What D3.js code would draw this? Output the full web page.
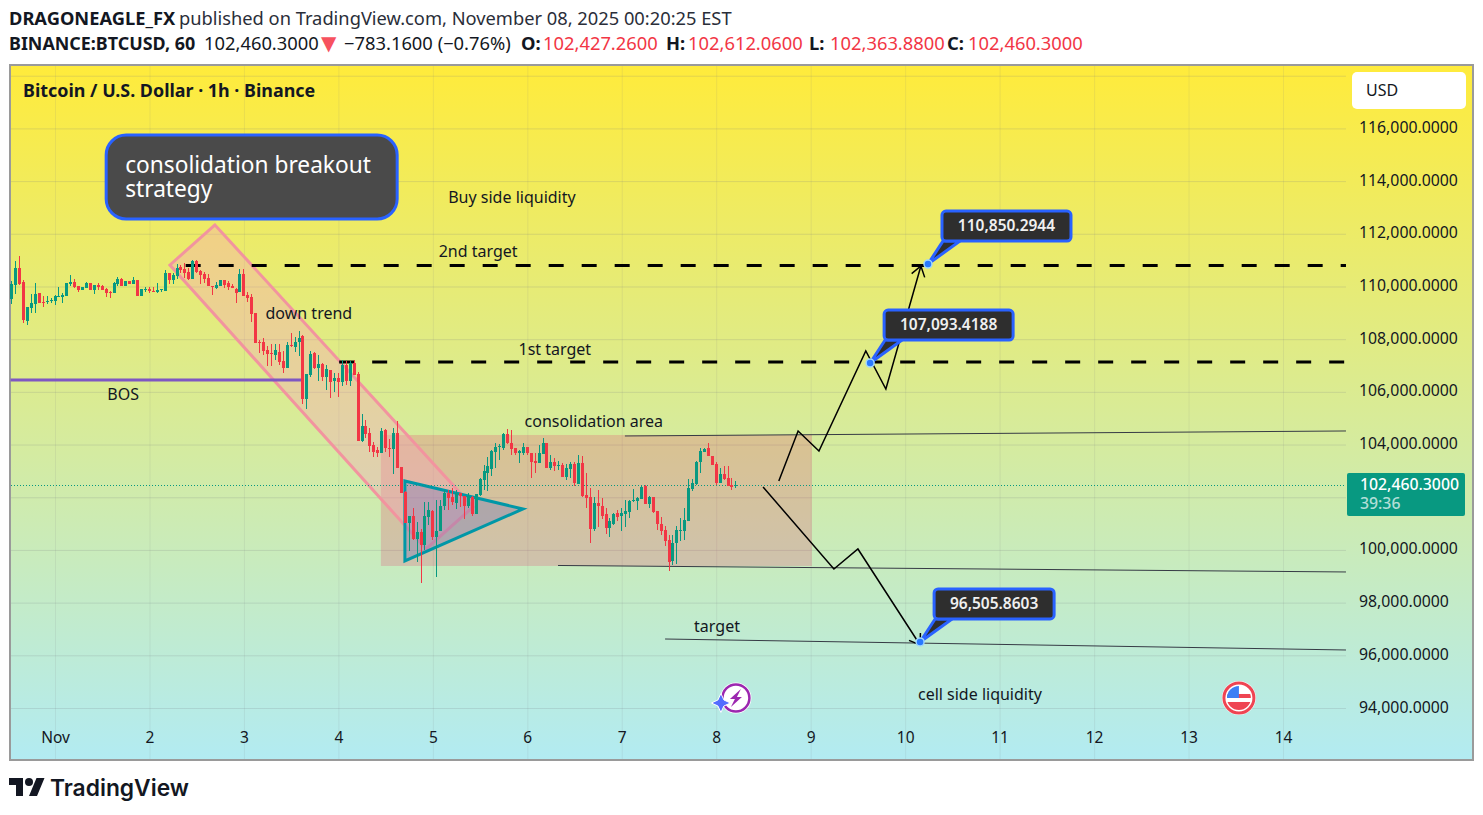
<!DOCTYPE html>
<html>
<head>
<meta charset="utf-8">
<title>BTCUSD consolidation breakout</title>
<style>
    body { margin: 0; background: #fff; }
    svg { display: block; }
    text { font-family: "Noto Sans", sans-serif; fill: #131722; }
</style>
</head>
<body>
<script src="https://d3js.org/d3.v7.min.js"></script>
<script>
// Candles, one per hour, first one 11 hours before Nov 1
const opens = [
    109530,110060,110700,110170,108690,109190,109340,109750,109410,109410,
    109450,109450,109600,109600,109640,110100,110170,110020,109870,109940,
    110130,109870,110060,110020,109910,109790,109750,110100,110290,110020,
    110210,110100,110250,109640,109870,109910,109830,109790,109870,109830,
    110510,110250,110400,110740,110660,110550,110290,110970,110590,110470,
    110320,110020,109940,110020,110250,110130,110020,109910,109790,110470,
    109680,109600,109000,107900,107900,107590,107480,107400,107520,107180,
    106910,107780,107710,107900,108120,105730,106640,107480,106910,107060,
    106570,106830,106420,106530,106380,107020,106420,107100,106680,104140,
    104710,104440,103990,103800,103680,104560,103870,103840,104440,103160,
    102210,101030,101300,100420,100690,100200,101260,101480,100500,100730,
    101680,102170,102020,101790,102170,102060,101680,102020,101370,102090,
    102660,102930,103080,103720,103910,103870,104410,104060,103870,103680,
    103680,103910,103680,103380,103310,103650,104060,103120,103340,103190,
    103230,102780,103080,103270,102510,103310,102090,102020,100800,101790,
    101680,101370,100840,100990,101410,101300,101370,101450,101870,101870,
    101940,102430,101750,102020,101480,100990,100760,100390,99590,100270,
    100730,100730,101110,102320,102510,103340,103720,103870,103570,103270,
    102550,102890,102740,102470,102427.26
];
const highs = [
    110210,110970,111160,110250,109220,109720,110130,109750,109640,109640,
    109570,109680,109980,109750,110130,110440,110290,110020,109980,110170,
    110130,110060,110130,110060,109940,109830,110170,110360,110320,110210,
    110210,110360,110250,109910,109980,109980,109980,110130,109910,110630,
    110510,110510,110860,110820,110890,110700,111010,111010,110630,110550,
    110470,110020,110170,110250,110250,110210,110100,109940,110660,110660,
    109790,109720,109000,107970,108050,107740,107820,107820,107820,107560,
    107900,108240,108090,108310,108160,106680,107560,107520,107400,107100,
    107020,106830,106720,106720,107210,107180,107180,107210,106760,105160,
    104930,104630,104100,103910,104630,104600,104220,104630,104900,103160,
    102240,101300,101600,101070,100800,101830,101830,101520,101900,101900,
    102280,102280,102360,102280,102170,102060,102170,102060,102130,102740,
    103230,103530,103800,104060,104030,104440,104600,104560,103870,103800,
    104060,103910,103680,103680,103990,104260,104060,103610,103500,103380,
    103310,103270,103340,103340,103610,103570,102930,102360,102020,102280,
    101980,101600,101220,101410,101520,101600,101900,101900,102320,102020,
    102430,102470,102060,102020,101480,101260,100920,100580,100580,100920,
    101220,101600,102700,102700,103380,103870,103870,104060,103570,103340,
    103120,103190,103190,102740,102612.06
];
const lows = [
    109340,109720,110060,108620,108540,109000,109000,109380,109220,109340,
    109380,109300,109600,109380,109640,110020,109940,109790,109870,109940,
    109870,109720,109870,109870,109600,109570,109750,110020,110020,110020,
    110100,110100,109640,109640,109790,109750,109790,109750,109790,109830,
    110100,110100,110290,110510,110320,110250,110290,110510,110100,110130,
    110020,109680,109910,110020,109940,109870,109940,109380,109790,109640,
    109410,108650,107860,107480,107400,106990,106990,107210,107020,106720,
    106910,107710,107520,107360,105540,105350,106570,106870,106420,106420,
    106080,105770,106000,105810,106230,106260,106230,106640,104140,104100,
    104260,103720,103530,103530,103680,103720,103530,102890,103120,102170,
    101030,99970,100390,99550,98750,100010,100950,100390,98980,100730,
    101520,101520,101710,101560,101640,101180,101600,101300,101370,102060,
    102280,102240,102810,103120,103420,103800,104030,103610,103610,103310,
    103610,103610,102740,102930,103310,103650,103120,103040,103000,103040,
    102780,102660,102740,102430,102510,102020,101600,100270,100730,100880,
    101180,100610,100500,100950,101110,100730,100880,101220,101830,101520,
    101940,101750,101600,101410,100760,100580,100160,99210,99440,99480,
    100350,100390,101110,102240,102470,102930,103720,103570,103230,102470,
    102550,102660,102430,102280,102363.88
];
const closes = [
    110100,110700,110100,108730,109220,109380,109720,109380,109380,109450,
    109490,109640,109640,109680,110130,110170,109980,109870,109980,110130,
    109870,110060,109980,109870,109750,109750,110130,110290,110020,110210,
    110100,110250,109640,109910,109910,109830,109790,109870,109910,110510,
    110250,110440,110700,110630,110510,110290,110970,110550,110440,110290,
    110020,109980,110060,110250,110060,109980,109940,109750,110470,109640,
    109570,108960,107860,107860,107560,107440,107440,107590,107140,106910,
    107780,107740,107900,108050,105730,106680,107440,106910,107060,106570,
    106870,106380,106530,106380,107020,106420,107100,106640,104140,104710,
    104410,103950,103720,103680,104520,103870,103840,104440,103120,102170,
    101030,101300,100420,100690,100200,101300,101520,100500,100730,101680,
    102170,101980,101830,102170,102060,101680,102060,101370,102130,102700,
    103000,103190,103760,103910,103950,104410,104060,103840,103680,103760,
    103910,103680,103340,103310,103680,104060,103120,103340,103190,103230,
    102780,103120,103270,102550,103310,102060,101980,100800,101790,101680,
    101300,100840,101110,101370,101260,101410,101480,101870,101900,101980,
    102400,101750,102020,101450,100990,100730,100350,99550,100270,100760,
    100760,101140,102360,102550,103340,103760,103840,103570,103230,102550,
    102890,102700,102430,102400,102460.30
];
const firstHour = -11;

const priceTicks = [118000,116000,114000,112000,110000,108000,106000,104000,102000,100000,98000,96000,94000];
const dayTicks = [0,24,48,72,96,120,144,168,192,216,240,264,288,312];
const dayLabels = ["Nov","2","3","4","5","6","7","8","9","10","11","12","13","14"];

// Drawings, as [hour since Nov 1, price]
const channel = [[40.65,112334],[29.2,110815],[94.3,100036],[106.2,101630]];
const triangle = [[88.9,102617],[118.9,101554],[88.9,99580]];
const consolidationBox = [[82.8,104363],[192.3,99391]];
const bosLine = [[-11.3,106450],[63.1,106450]];
const target2Line = [[33.2,110800],[328,110800]];
const target1Line = [[72.2,107130],[328,107130]];
const upperLine = [[144.8,104325],[328,104515]];
const lowerLine = [[127.8,99410],[328,99163]];
const targetLine = [[155,96619],[328,96202]];
const upPath = [[183.9,102617],[188.8,104515],[194.1,103755],[206,107551],[211.1,106109],[220,110777]];
const downPath = [[179.9,102389],[197.9,99276],[204,100036],[219.8,96392]];

const labels = ["Buy side liquidity","2nd target","down trend","1st target","consolidation area","target","cell side liquidity","BOS"];
const labelPoints = [[116.1,113335],[107.5,111285],[64.5,108935],[127,107565],[136.9,104835],[168.2,97055],[235,94475],[17.3,105855]];

const calloutPoints = [[221.8,110850.2944],[207.1,107093.4188],[219.8,96505.8603]];
const calloutTexts = ["110,850.2944","107,093.4188","96,505.8603"];
const calloutWidths = [129,129,120];

const width = 1483, height = 815;
const plot = { left: 11, right: 1346, top: 66, bottom: 759 };

const x = d3.scaleLinear().domain([0, 312]).range([55, 1283]);
const y = d3.scaleLinear().domain([116000, 94000]).range([128.4, 708]);
const line = d3.line().x(d => x(d[0])).y(d => y(d[1]));
const closedLine = d => line(d) + "Z";

const svg = d3.select("body").append("svg").attr("width", width).attr("height", height);

// Header
const head1 = svg.append("text").attr("x", 9).attr("y", 25).style("font-size", "18.3px");
head1.append("tspan").style("font-weight", 700).text("DRAGONEAGLE_FX");
head1.append("tspan").attr("x", 179).style("fill", "#2a2e39").text("published on TradingView.com, November 08, 2025 00:20:25 EST");

const head2 = svg.append("text").attr("x", 9).attr("y", 50).style("font-size", "18.35px");
head2.append("tspan").style("font-weight", 700).style("font-size", "17.9px").text("BINANCE:BTCUSD, 60");
head2.append("tspan").attr("x", 204).text("102,460.3000");
head2.append("tspan").attr("x", 321).style("fill", "#f7525f").style("font-family", "DejaVu Sans").style("font-size", "20px").text("▼");
head2.append("tspan").attr("x", 344).text("−783.1600 (−0.76%)");
[["O:","102,427.2600",521,543],["H:","102,612.0600",666,688],["L:","102,363.8800",809,830],["C:","102,460.3000",947,968]].forEach(p => {
    head2.append("tspan").attr("x", p[2]).style("font-weight", 700).text(p[0]);
    head2.append("tspan").attr("x", p[3]).style("fill", "#f23645").text(p[1]);
});

// Background
const grad = svg.append("defs").append("linearGradient")
    .attr("id", "bg").attr("x1", 0).attr("y1", 0).attr("x2", 0).attr("y2", 1);
grad.append("stop").attr("offset", "0%").attr("stop-color", "#ffeb3b");
grad.append("stop").attr("offset", "100%").attr("stop-color", "#b2ebf2");

svg.append("rect").attr("x", 10).attr("y", 65).attr("width", 1463).attr("height", 695)
    .attr("fill", "url(#bg)").attr("stroke", "#9a9a9a").attr("stroke-width", 2);

// Axes
const xAxis = d3.axisBottom(x).tickValues(dayTicks).tickFormat((d, i) => dayLabels[i]).tickSize(-(plot.bottom - plot.top)).tickPadding(0);
const gx = svg.append("g").attr("transform", "translate(0," + plot.bottom + ")").call(xAxis);
gx.select(".domain").remove();
gx.selectAll("line").attr("stroke", "#787b86").attr("stroke-opacity", 0.12);
gx.selectAll("text").attr("y", -21).attr("dy", "0.35em").style("font-size", "15.5px").style("fill", "#131722");

const yAxis = d3.axisRight(y).tickValues(priceTicks).tickFormat(d => d3.format(",.4f")(d)).tickSize(-(plot.right - plot.left)).tickPadding(0);
const gy = svg.append("g").attr("transform", "translate(" + plot.right + ",0)").call(yAxis);
gy.select(".domain").remove();
gy.selectAll("line").attr("stroke", "#787b86").attr("stroke-opacity", 0.2);
gy.selectAll("text").attr("x", 13).attr("y", -1.5).attr("dy", "0.35em").style("font-size", "15.8px").style("fill", "#131722");
// 118,000 sits under the currency box, 102,000 under the last price tag
gy.selectAll(".tick").filter(d => d === 118000 || d === 102000).select("text").remove();

// Drawings, all of them below the candles
svg.append("rect")
    .attr("x", x(consolidationBox[0][0])).attr("y", y(consolidationBox[0][1]))
    .attr("width", x(consolidationBox[1][0]) - x(consolidationBox[0][0]))
    .attr("height", y(consolidationBox[1][1]) - y(consolidationBox[0][1]))
    .attr("fill", "#e91e63").attr("fill-opacity", 0.2);

svg.append("path").attr("d", closedLine(channel))
    .attr("fill", "rgba(250,160,190,0.35)").attr("stroke", "#f2949f").attr("stroke-width", 3);

svg.append("path").attr("d", closedLine(triangle))
    .attr("fill", "#5c6bc0").attr("fill-opacity", 0.3).attr("stroke", "#0097a7").attr("stroke-width", 3);

svg.append("path").attr("d", line(bosLine)).attr("fill", "none").attr("stroke", "#7e57c2").attr("stroke-width", 3);

[target2Line, target1Line].forEach(l => {
    svg.append("path").attr("d", line(l)).attr("fill", "none")
        .attr("stroke", "#000").attr("stroke-width", 3).attr("stroke-dasharray", "15 18");
});

[upperLine, lowerLine, targetLine].forEach(l => {
    svg.append("path").attr("d", line(l)).attr("fill", "none").attr("stroke", "#363a45").attr("stroke-width", 1);
});

// arrow head built from the direction of the last segment
function arrowHead(pts) {
    const a = pts[pts.length - 2], b = pts[pts.length - 1];
    const bx = x(b[0]), by = y(b[1]);
    const ang = Math.atan2(by - y(a[1]), bx - x(a[0]));
    const wing = s => [bx - 12 * Math.cos(ang + s * 0.6), by - 12 * Math.sin(ang + s * 0.6)];
    const w1 = wing(1), w2 = wing(-1);
    return "M" + w1 + "L" + bx + "," + by + "L" + w2;
}
[upPath, downPath].forEach(p => {
    svg.append("path").attr("d", line(p)).attr("fill", "none").attr("stroke", "#000").attr("stroke-width", 1.5);
    svg.append("path").attr("d", arrowHead(p)).attr("fill", "none").attr("stroke", "#000").attr("stroke-width", 1.5);
});

// Price line
const lastY = y(closes[closes.length - 1]);
svg.append("line")
    .attr("x1", plot.left).attr("x2", plot.right)
    .attr("y1", Math.round(lastY) + 0.5).attr("y2", Math.round(lastY) + 0.5)
    .attr("stroke", "#089981").attr("stroke-width", 1).attr("stroke-dasharray", "1 2");

// Candles
const candles = svg.append("g").attr("shape-rendering", "crispEdges");
closes.forEach((c, i) => {
    const o = opens[i], cx = x(firstHour + i);
    const colour = c >= o ? "#089981" : "#f23645";
    candles.append("line")
        .attr("x1", cx).attr("x2", cx).attr("y1", y(highs[i])).attr("y2", y(lows[i]))
        .attr("stroke", colour).attr("stroke-width", 1);
    candles.append("rect")
        .attr("x", cx - 1.5).attr("width", 3)
        .attr("y", y(Math.max(o, c))).attr("height", Math.max(1, Math.abs(y(o) - y(c))))
        .attr("fill", colour);
});

// Plain text notes
labels.forEach((t, i) => {
    svg.append("text").attr("x", x(labelPoints[i][0])).attr("y", y(labelPoints[i][1]))
        .attr("text-anchor", "middle").attr("dominant-baseline", "middle")
        .style("font-size", "16px").text(t);
});

// Big note
const noteX = x(13), noteY = y(115750);
svg.append("rect").attr("x", noteX).attr("y", noteY).attr("width", 291).attr("height", 84).attr("rx", 20)
    .attr("fill", "#4a4a4a").attr("stroke", "#2962ff").attr("stroke-width", 3);
["consolidation breakout", "strategy"].forEach((t, i) => {
    svg.append("text").attr("x", noteX + 19).attr("y", noteY + 38 + i * 24)
        .style("font-size", "22.7px").style("fill", "#fff").text(t);
});

// Price callouts
calloutPoints.forEach((p, i) => {
    const px = x(p[0]), py = y(p[1]);
    const bx = px + 14, by = py - 53, bw = calloutWidths[i], bh = 30;
    const tail = "M" + (bx + 1) + "," + (by + bh) + "L" + px + "," + py + "L" + (bx + 18) + "," + (by + bh) + "Z";
    svg.append("path").attr("d", tail).attr("fill", "#2e2e2e").attr("stroke", "#2962ff").attr("stroke-width", 3);
    svg.append("rect").attr("x", bx).attr("y", by).attr("width", bw).attr("height", bh).attr("rx", 4)
        .attr("fill", "#2e2e2e").attr("stroke", "#2962ff").attr("stroke-width", 3);
    svg.append("text").attr("x", bx + bw / 2).attr("y", by + bh / 2 + 1)
        .attr("text-anchor", "middle").attr("dominant-baseline", "middle")
        .style("font-size", "15.5px").style("font-weight", 600).style("fill", "#f0f0f0").text(calloutTexts[i]);
    svg.append("circle").attr("cx", px).attr("cy", py).attr("r", 4)
        .attr("fill", "#2979ff").attr("stroke", "#a0d8ff").attr("stroke-width", 1.5);
});

// Lightning and flag badges on the time scale
const bolt = svg.append("g").attr("transform", "translate(" + x(173) + "," + y(94380) + ")");
bolt.append("circle").attr("r", 15.5).attr("fill", "#fff");
bolt.append("circle").attr("r", 13.5).attr("fill", "none").attr("stroke", "#9c27b0").attr("stroke-width", 2.5);
bolt.append("path").attr("d", "M5,-9L-6,1H-1L-5,9L6,-1H1Z").attr("fill", "#9c27b0");
bolt.append("path").attr("d", "M-15,-4.5L-12,2L-5.5,5L-12,8L-15,14.5L-18,8L-24.5,5L-18,2Z")
    .attr("fill", "#536dfe").attr("stroke", "#fff").attr("stroke-width", 1);

const flag = svg.append("g").attr("transform", "translate(" + x(300.8) + "," + y(94380) + ")");
flag.append("circle").attr("r", 17).attr("fill", "#fff");
flag.append("circle").attr("r", 15).attr("fill", "none").attr("stroke", "#ef4452").attr("stroke-width", 3);
const clip = svg.select("defs").append("clipPath").attr("id", "flagClip");
clip.append("circle").attr("r", 12);
const flagIn = flag.append("g").attr("clip-path", "url(#flagClip)");
flagIn.append("rect").attr("x", -12).attr("y", -12).attr("width", 24).attr("height", 24).attr("fill", "#fff");
flagIn.append("rect").attr("x", -12).attr("y", -4).attr("width", 24).attr("height", 4).attr("fill", "#ef4452");
flagIn.append("rect").attr("x", -12).attr("y", 4).attr("width", 24).attr("height", 8).attr("fill", "#ef4452");
flagIn.append("rect").attr("x", -12).attr("y", -12).attr("width", 12).attr("height", 12).attr("fill", "#3d7ff5");

// Title, currency box, last price tag
svg.append("text").attr("x", 23).attr("y", 97).style("font-size", "17.9px").style("font-weight", 700)
    .text("Bitcoin / U.S. Dollar · 1h · Binance");

svg.append("rect").attr("x", 1352).attr("y", 72).attr("width", 114).attr("height", 37).attr("rx", 5).attr("fill", "#fff");
svg.append("text").attr("x", 1366).attr("y", 96).style("font-size", "16px").text("USD");

svg.append("rect").attr("x", 1347).attr("y", lastY - 12).attr("width", 118).attr("height", 43).attr("rx", 2).attr("fill", "#089981");
svg.append("text").attr("x", 1360).attr("y", lastY + 5).style("font-size", "15.8px").style("font-weight", 500).style("fill", "#fff").text("102,460.3000");
svg.append("text").attr("x", 1360).attr("y", lastY + 24).style("font-size", "15.8px").style("font-weight", 500).style("fill", "rgba(255,255,255,0.7)").text("39:36");

// Logo
const logo = svg.append("g").attr("transform", "translate(9,774)");
logo.append("path").attr("d", "M14 22H7V11H0V4h14v18zM28 22h-8l7.5-18h8L28 22z").attr("fill", "#131722");
logo.append("circle").attr("cx", 20).attr("cy", 8).attr("r", 4).attr("fill", "#131722");
svg.append("text").attr("x", 50).attr("y", 796).style("font-family", "Inter").style("font-size", "22.8px").style("font-weight", 600).text("TradingView");
</script>
</body>
</html>
